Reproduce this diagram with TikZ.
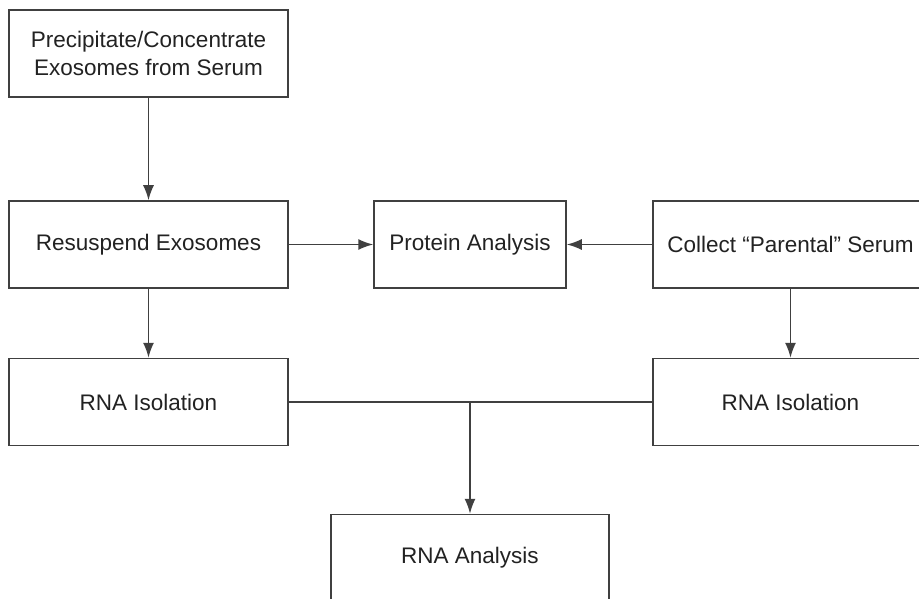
\documentclass[tikz,border=0pt]{standalone}
\usepackage{fontspec}
\setmainfont{Liberation Sans}
\usepackage{tikz}
\usetikzlibrary{arrows.meta}
\definecolor{linegray}{HTML}{404040}
\definecolor{textgray}{HTML}{222222}

\begin{document}
\begin{tikzpicture}[x=1pt,y=-1pt,
  box/.style={draw=linegray,line width=1.5pt,text=textgray,align=center,
    minimum height=87pt,inner sep=0pt,font=\fontsize{22.5}{28}\selectfont},
  arr/.style={draw=linegray,line width=1.5pt,-{Latex[length=15pt,width=11pt]}}]
\useasboundingbox (0,0) rectangle (919,599);
\clip (0,0) rectangle (919,599);
\fill[white] (0,0) rectangle (919,599);
\node[box,minimum width=279pt] (prec) at (148.5,53.5) {Precipitate/Concentrate\\Exosomes from Serum};
\node[box,minimum width=279pt] (resus) at (148.5,244.5) {Resuspend Exosomes};
\node[box,minimum width=192pt] (prot) at (470,244.5) {Protein Analysis};
\node[box,minimum width=275pt] (coll) at (790.5,244.5) {Collect “Parental” Serum};
\node[box,minimum width=279pt] (rnaL) at (148.5,402) {RNA Isolation};
\node[box,minimum width=275pt] (rnaR) at (790.5,402) {RNA Isolation};
\node[box,minimum width=278pt] (rnaA) at (470,558) {RNA Analysis};
\draw[arr] (prec) -- (resus);
\draw[arr] (resus) -- (prot);
\draw[arr] (coll) -- (prot);
\draw[arr] (resus) -- (rnaL);
\draw[arr] (coll) -- (rnaR);
\draw[draw=linegray,line width=1.5pt] (rnaL) -- (rnaR);
\coordinate (join) at (rnaL.east -| rnaA.north);
\draw[arr] (join) -- (rnaA);
\end{tikzpicture}
\end{document}
